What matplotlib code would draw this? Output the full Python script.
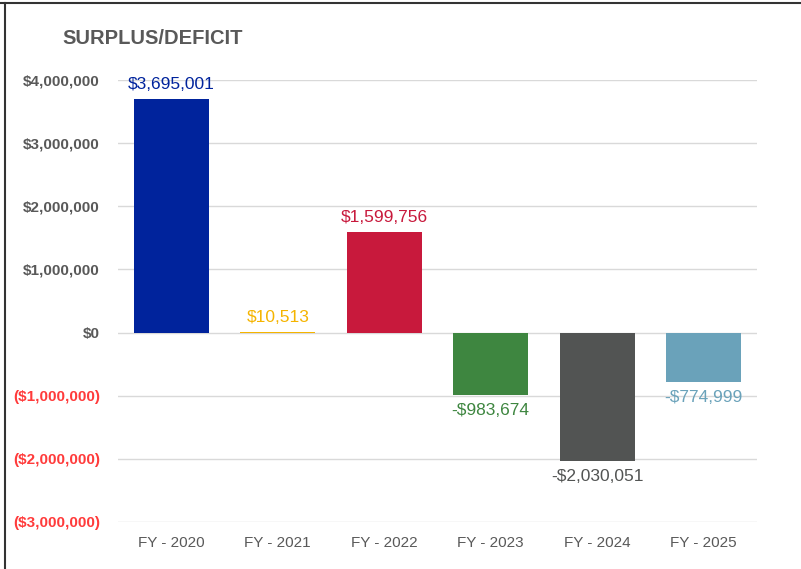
import matplotlib.pyplot as plt
from matplotlib.ticker import FuncFormatter

# data
years = ["FY - 2020", "FY - 2021", "FY - 2022", "FY - 2023", "FY - 2024", "FY - 2025"]
values = [3695001, 10513, 1599756, -983674, -2030051, -774999]
colors = ["#00239C", "#F5B400", "#C8193C", "#3E8640", "#525453", "#6AA2BA"]
yticks = [-3000000, -2000000, -1000000, 0, 1000000, 2000000, 3000000, 4000000]

plt.rcParams["font.family"] = ["Liberation Sans", "DejaVu Sans"]

fig = plt.figure(figsize=(8.01, 5.69), dpi=100)
ax = fig.add_axes([118 / 801, 1 - 522 / 569, (757 - 118) / 801, (522 - 80) / 569])

x = range(len(years))
bars = ax.bar(x, values, width=0.7, color=colors, zorder=3)

ax.set_xlim(-0.5, len(years) - 0.5)
ax.set_ylim(-3000000, 4000000)
ax.set_yticks(yticks)


def money(v, pos=None):
    if v < 0:
        return "(${:,.0f})".format(-v)
    return "${:,.0f}".format(v)


ax.yaxis.set_major_formatter(FuncFormatter(money))
for lbl, v in zip(ax.get_yticklabels(), yticks):
    lbl.set_color("#FF3B3B" if v < 0 else "#595959")
    lbl.set_fontweight("bold")
    lbl.set_fontsize(11)

ax.set_xticks(list(x))
ax.set_xticklabels(years, fontsize=11, color="#595959")
ax.tick_params(axis="both", length=0)
ax.tick_params(axis="y", pad=13)
ax.tick_params(axis="x", pad=10)

ax.grid(axis="y", color="#D9D9D9", linewidth=1, zorder=0)
for s in ax.spines.values():
    s.set_visible(False)

# bar labels
for i, (v, c) in enumerate(zip(values, colors)):
    lab = "${:,.0f}".format(v) if v >= 0 else "-${:,.0f}".format(-v)
    if v >= 0:
        ax.annotate(lab, (i, v), xytext=(0, 5), textcoords="offset points",
                    ha="center", va="bottom", color=c, fontsize=12.5)
    else:
        ax.annotate(lab, (i, v), xytext=(0, -6), textcoords="offset points",
                    ha="center", va="top", color=c, fontsize=12.5)

fig.text(62 / 801, 1 - 38 / 569, "SURPLUS/DEFICIT", fontsize=14.5, fontweight="bold",
         color="#595959", ha="left", va="center")

# frame lines on top and left
fig.add_artist(plt.Line2D([0, 1], [1 - 3 / 569, 1 - 3 / 569], color="#333333", linewidth=1.5))
fig.add_artist(plt.Line2D([5 / 801, 5 / 801], [0, 1 - 3 / 569], color="#333333", linewidth=1.5))

fig.savefig("out.png", dpi=100)
